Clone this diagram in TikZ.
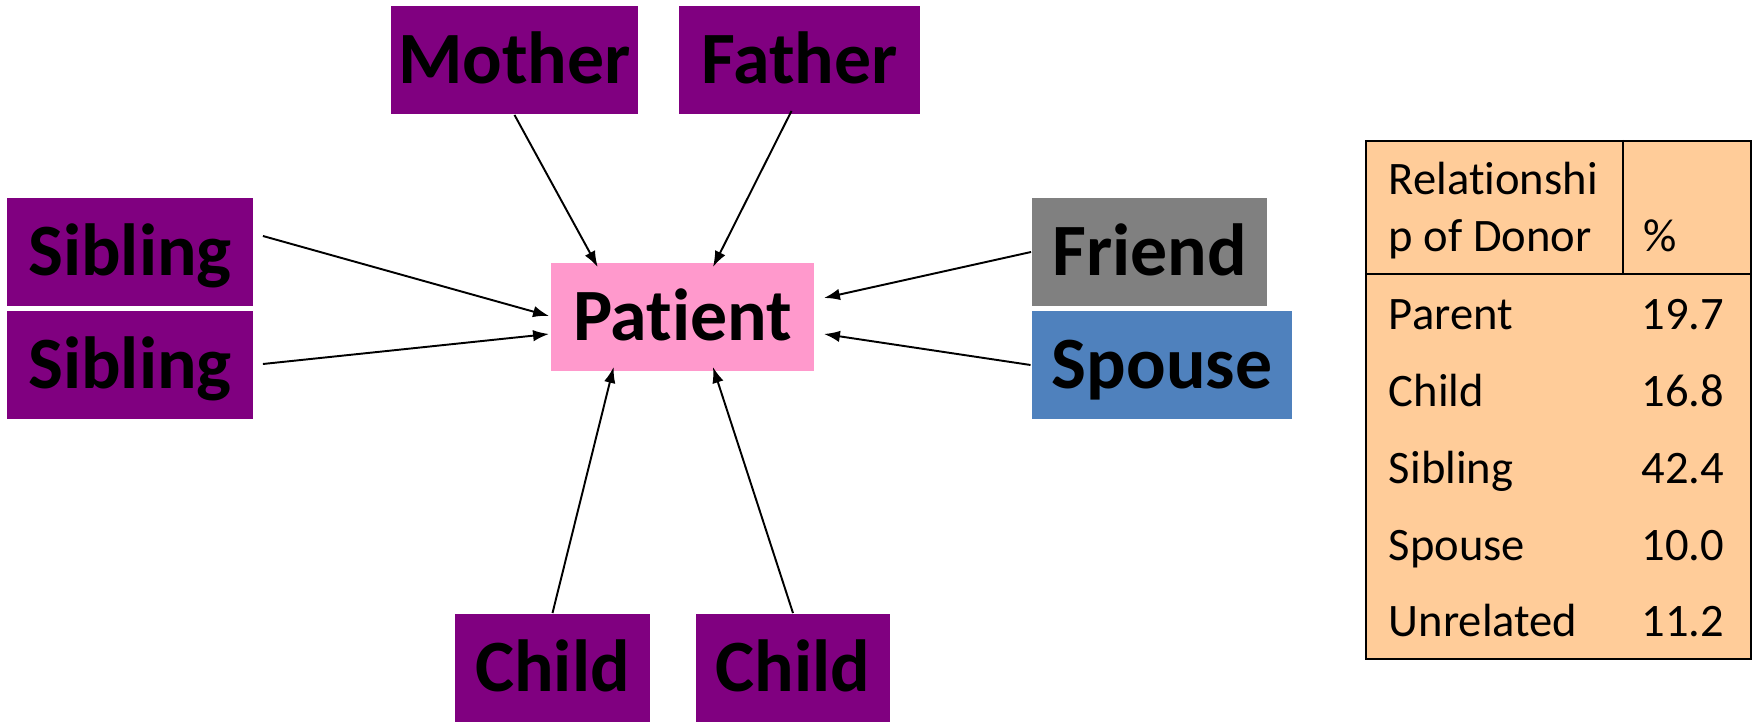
\documentclass[tikz,border=0pt]{standalone}
\usepackage{fontspec}
\setmainfont{Carlito}[Ligatures=NoCommon]
\usetikzlibrary{arrows.meta,calc}
\definecolor{relpurple}{HTML}{800080}
\definecolor{patpink}{HTML}{FF99CC}
\definecolor{friendgray}{HTML}{808080}
\definecolor{spouseblue}{HTML}{4F81BD}
\definecolor{tablepeach}{HTML}{FFCC99}
\begin{document}
\begin{tikzpicture}[x=0.02cm, y=-0.02cm, >={Latex[length=3.2mm,width=2.3mm]}, line width=1.1pt,
    rel/.style={rectangle, fill=relpurple, inner sep=0pt, minimum height=2.16cm,
      font=\fontsize{42}{50}\selectfont\bfseries, text height=0.95cm, text depth=0pt},
    cell/.style={inner sep=0pt, font=\fontsize{26.5}{31}\selectfont}]
  \useasboundingbox (0,0) rectangle (1756,722);

  % family and others
  \node[rel, minimum width=4.94cm] (mother) at (514.5,60) {Mother};
  \node[rel, minimum width=4.82cm] (father) at (799.5,60) {Father};
  \node[rel, minimum width=4.92cm] (sib1) at (130,252) {Sibling};
  \node[rel, minimum width=4.92cm] (sib2) at (130,365) {Sibling};
  \node[rel, minimum width=5.26cm, fill=patpink] (patient) at (682.5,317) {Patient};
  \node[rel, minimum width=4.70cm, fill=friendgray] (friend) at (1149.5,252) {Friend};
  \node[rel, minimum width=5.22cm, fill=spouseblue] (spouse) at (1162,365) {Spouse};
  \node[rel, minimum width=3.90cm] (child1) at (552.5,668) {Child};
  \node[rel, minimum width=3.88cm] (child2) at (793,668) {Child};

  % arrows to the patient
  \draw[->] (mother.south) -- ($(patient.north west)!0.18!(patient.north east)+(0,5)$);
  \draw[->] ($(father.south)+(-8,-4)$) -- ($(patient.north west)!0.615!(patient.north east)+(0,5)$);
  \draw[->] ($(sib1.east)+(9,-16)$) -- ($(patient.west)+(-1,-1)$);
  \draw[->] ($(sib2.east)+(9,-1)$) -- ($(patient.west)+(-1,17)$);
  \draw[->] (friend.west) -- ($(patient.east)+(9,-19)$);
  \draw[->] (spouse.west) -- ($(patient.east)+(9,17)$);
  \draw[->] (child1.north) -- ($(patient.south west)!0.24!(patient.south east)+(0,-5)$);
  \draw[->] (child2.north) -- ($(patient.south west)!0.615!(patient.south east)+(0,-5)$);

  % table
  \node[draw, fill=tablepeach, line width=1.3pt, inner sep=0pt,
    minimum width=7.7cm, minimum height=10.36cm] (tab) at (1558.5,400) {};
  \draw[line width=1.3pt] (tab.west |- 0,274) -- (tab.east |- 0,274);
  \draw[line width=1.3pt] (1623,0 |- tab.north) -- (1623,274);
  \node[cell, anchor=base west] (hdr1) at (1388,195) {Relationshi};
  \node[cell, anchor=base west] (hdr2) at (1388,252) {p of Donor};
  \node[cell, anchor=base west] (hdrpct) at (1643,252) {\%};
  \foreach \lbl/\val [count=\i from 0] in {Parent/19.7, Child/16.8, Sibling/42.4, Spouse/10.0, Unrelated/11.2} {
    \node[cell, anchor=base west] (lbl\i) at (1388,{330+76.75*\i}) {\lbl};
    \node[cell, anchor=base east] (val\i) at (1725,{330+76.75*\i}) {\val};
  }
\end{tikzpicture}
\end{document}
